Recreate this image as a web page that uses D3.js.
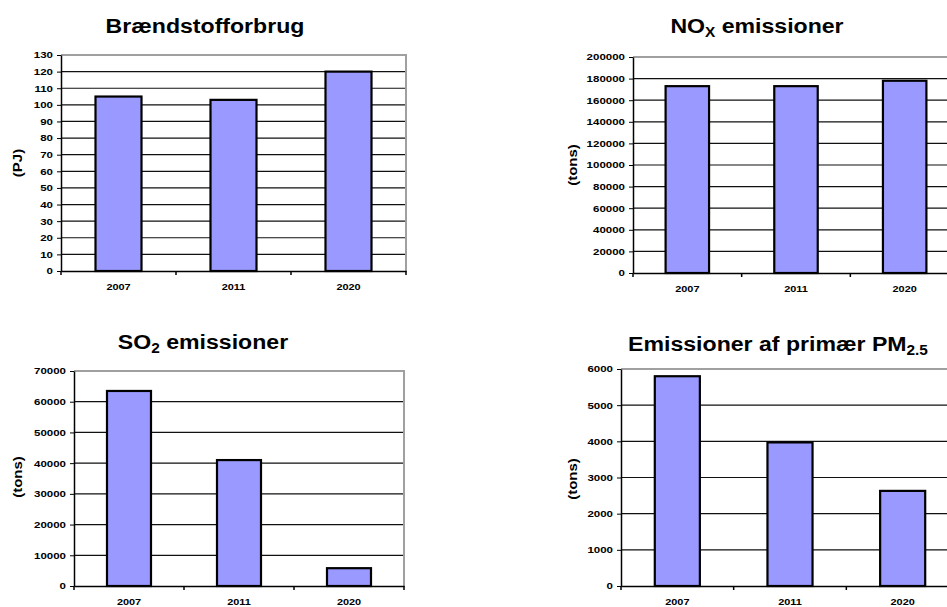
<!DOCTYPE html>
<html>
<head>
<meta charset="utf-8">
<script src="https://cdn.jsdelivr.net/npm/d3@7"></script>
<style>
  body { margin: 0; background: #fff; }
  svg { display: block; }
</style>
</head>
<body>
<script>
// data
var years = ["2007", "2011", "2020"];
var fuelPJ = [105, 103, 120];
var noxTons = [173000, 173000, 178000];
var so2Tons = [63500, 41000, 5800];
var pm25Tons = [5800, 3970, 2630];

var fuelTicks = [0, 10, 20, 30, 40, 50, 60, 70, 80, 90, 100, 110, 120, 130];
var noxTicks = [0, 20000, 40000, 60000, 80000, 100000, 120000, 140000, 160000, 180000, 200000];
var so2Ticks = [0, 10000, 20000, 30000, 40000, 50000, 60000, 70000];
var pm25Ticks = [0, 1000, 2000, 3000, 4000, 5000, 6000];

var W = 947, H = 607;
var font = "'Liberation Sans', Arial, sans-serif";

var svg = d3.select("body").append("svg")
    .attr("width", W)
    .attr("height", H);

// stretch small text sideways, the original is rendered wide
function stretch(sel, s) {
    sel.each(function() {
        var t = d3.select(this);
        var x = +t.attr("x") || 0;
        t.attr("x", x / s).attr("transform", "scale(" + s + ",1)");
    });
}

function panel(p) {
    var g = svg.append("g");

    var x = d3.scaleBand()
        .domain(years)
        .range([p.left, p.right])
        .paddingInner(0.6)
        .paddingOuter(0.3);

    var y = d3.scaleLinear()
        .domain([0, p.max])
        .range([p.bottom, p.top]);

    // gridlines
    g.selectAll("line.grid")
        .data(p.ticks.filter(function(t) { return t > 0 && t < p.max; }))
        .enter()
        .append("line")
        .attr("x1", p.left)
        .attr("x2", p.right)
        .attr("y1", function(d) { return y(d); })
        .attr("y2", function(d) { return y(d); })
        .attr("stroke", "#111")
        .attr("stroke-width", 1.2);

    // grey plot frame, top and right
    g.append("path")
        .attr("d", "M" + p.left + "," + y(p.max) + "H" + p.right + "V" + y(0))
        .attr("fill", "none")
        .attr("stroke", "#a0a0a0")
        .attr("stroke-width", 2);

    g.selectAll("rect.bar")
        .data(p.values)
        .enter()
        .append("rect")
        .attr("x", function(d, i) { return x(years[i]); })
        .attr("y", function(d) { return y(d); })
        .attr("width", x.bandwidth())
        .attr("height", function(d) { return y(0) - y(d); })
        .attr("fill", "#9999ff")
        .attr("stroke", "#000")
        .attr("stroke-width", 2.2);

    // y axis
    var ya = g.append("g")
        .attr("transform", "translate(" + p.left + ",0)")
        .call(d3.axisLeft(y)
            .tickValues(p.ticks)
            .tickFormat(d3.format("d"))
            .tickSize(4)
            .tickSizeOuter(0)
            .tickPadding(4));
    ya.attr("font-family", font).attr("font-size", 9).attr("font-weight", "bold");
    ya.select(".domain").attr("stroke-width", 1.5);
    ya.selectAll("text").attr("fill", "#000");
    stretch(ya.selectAll("text"), 1.28);

    // x axis: labels centred, ticks on category borders
    var xa = g.append("g")
        .attr("transform", "translate(0," + y(0) + ")")
        .call(d3.axisBottom(x).tickSize(0).tickSizeOuter(0).tickPadding(12));
    xa.attr("font-family", font).attr("font-size", 9.5).attr("font-weight", "bold");
    xa.select(".domain").attr("stroke-width", 1.5);
    xa.selectAll("text").attr("fill", "#000");
    stretch(xa.selectAll("text"), 1.15);

    var borders = d3.range(years.length + 1).map(function(i) { return p.left + i * x.step(); });
    xa.selectAll("line.border")
        .data(borders)
        .enter()
        .append("line")
        .attr("x1", function(d) { return d; })
        .attr("x2", function(d) { return d; })
        .attr("y1", 0)
        .attr("y2", 4)
        .attr("stroke", "#000")
        .attr("stroke-width", 1.5);

    // axis title
    g.append("g")
        .attr("transform", "translate(" + p.labelX + "," + p.labelY + ") rotate(-90)")
        .append("text")
        .attr("text-anchor", "middle")
        .attr("font-family", font)
        .attr("font-size", 12)
        .attr("font-weight", "bold")
        .attr("transform", "scale(1.25,1)")
        .text(p.label);

    // chart title with subscript
    var t = g.append("text")
        .attr("transform", "translate(" + p.titleX + "," + p.titleY + ") scale(1.1,1)")
        .attr("text-anchor", "middle")
        .attr("font-family", font)
        .attr("font-size", 21)
        .attr("font-weight", "bold");
    t.append("tspan").text(p.title[0]);
    if (p.title[1]) {
        t.append("tspan").attr("font-size", 14).attr("dy", 4).text(p.title[1]);
        if (p.title[2]) t.append("tspan").attr("dy", -4).text(p.title[2]);
    }
}

panel({ values: fuelPJ, ticks: fuelTicks, max: 130,
        left: 61, right: 406, top: 55, bottom: 271,
        label: "(PJ)", labelX: 22, labelY: 163,
        title: ["Brændstofforbrug"], titleX: 205, titleY: 33 });

panel({ values: noxTons, ticks: noxTicks, max: 200000,
        left: 633, right: 959, top: 57, bottom: 273,
        label: "(tons)", labelX: 577, labelY: 165,
        title: ["NO", "X", " emissioner"], titleX: 757, titleY: 33 });

panel({ values: so2Tons, ticks: so2Ticks, max: 70000,
        left: 74, right: 404, top: 371, bottom: 586,
        label: "(tons)", labelX: 22, labelY: 477,
        title: ["SO", "2", " emissioner"], titleX: 203, titleY: 349 });

panel({ values: pm25Tons, ticks: pm25Ticks, max: 6000,
        left: 621, right: 959, top: 369, bottom: 586,
        label: "(tons)", labelX: 577, labelY: 479,
        title: ["Emissioner af primær PM", "2.5"], titleX: 778, titleY: 351 });
</script>
</body>
</html>
